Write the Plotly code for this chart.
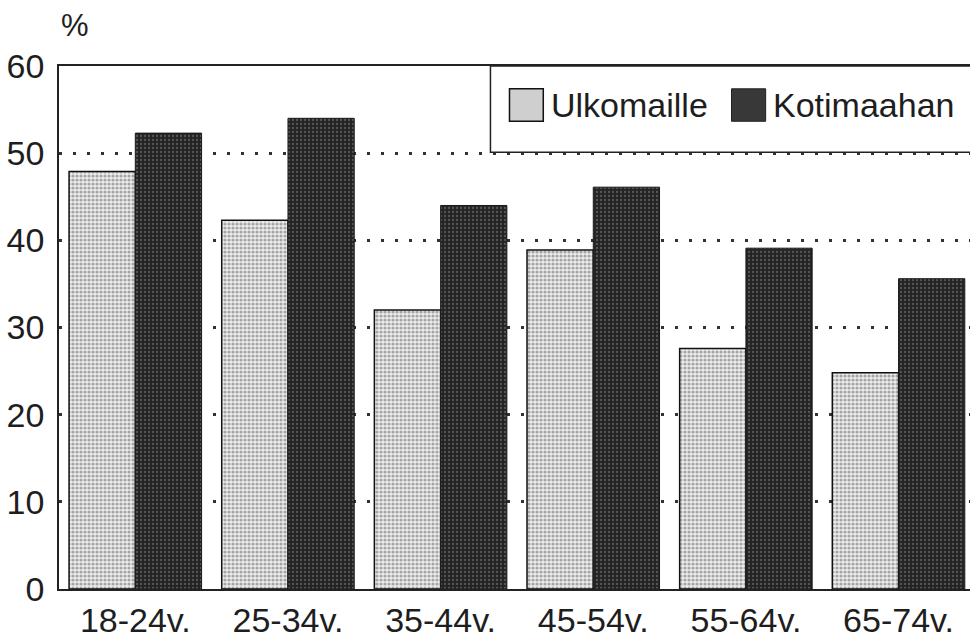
import plotly.graph_objects as go

categories = ["18-24v.", "25-34v.", "35-44v.", "45-54v.", "55-64v.", "65-74v."]
ulkomaille = [47.9, 42.3, 32.0, 38.9, 27.6, 24.8]
kotimaahan = [52.3, 54.0, 44.0, 46.1, 39.1, 35.6]
y_ticks = [0, 10, 20, 30, 40, 50, 60]
series_names = ["Ulkomaille", "Kotimaahan"]

FONT = "Liberation Sans, Arial, Helvetica, sans-serif"
TXT = "#1e1e1e"

fig = go.Figure()
fig.add_trace(go.Bar(
    x=categories, y=ulkomaille, name=series_names[0],
    marker=dict(color="#e6e6e6",
                pattern=dict(shape=".", fgcolor="#5e5e5e", bgcolor="#ececec", size=4, solidity=0.5),
                line=dict(color="#111", width=1.5)),
))
fig.add_trace(go.Bar(
    x=categories, y=kotimaahan, name=series_names[1],
    marker=dict(color="#262626",
                pattern=dict(shape=".", fgcolor="#8a8a8a", bgcolor="#242424", size=4, solidity=0.25),
                line=dict(color="#1a1a1a", width=1)),
))

# custom legend (box, swatches, labels)
shapes = [
    dict(type="rect", xref="paper", yref="paper", x0=0.4736, x1=1.02, y0=0.835, y1=1.0,
         line=dict(color="#222", width=1.5), fillcolor="white", layer="above"),
    dict(type="rect", xref="paper", yref="paper", x0=0.4945, x1=0.5316, y0=0.8943, y1=0.9564,
         line=dict(color="#111", width=1.5), fillcolor="#cfcfcf", layer="above"),
    dict(type="rect", xref="paper", yref="paper", x0=0.7382, x1=0.7757, y0=0.8943, y1=0.9564,
         line=dict(color="#222", width=1), fillcolor="#383838", layer="above"),
]
annotations = [
    dict(text=series_names[0], xref="paper", yref="paper", x=0.538, y=0.925,
         xanchor="left", yanchor="middle", showarrow=False,
         font=dict(family=FONT, size=34, color=TXT)),
    dict(text=series_names[1], xref="paper", yref="paper", x=0.7815, y=0.925,
         xanchor="left", yanchor="middle", showarrow=False,
         font=dict(family=FONT, size=34, color=TXT)),
    dict(text="%", xref="paper", yref="paper", x=0.0, y=1.078,
         xanchor="left", yanchor="middle", showarrow=False,
         font=dict(family=FONT, size=31, color=TXT)),
]

fig.update_layout(
    width=970, height=639,
    margin=dict(l=59, r=0, t=66, b=46),
    paper_bgcolor="white", plot_bgcolor="white",
    barmode="group", bargap=0.132, bargroupgap=0,
    showlegend=False,
    font=dict(family=FONT, size=34, color=TXT),
    shapes=shapes, annotations=annotations,
    xaxis=dict(range=[-0.5, 5.468], showline=True, mirror=True, linecolor="#222", linewidth=1.5,
               showgrid=False, ticks="", tickfont=dict(size=34, color=TXT), ticklabelstandoff=0),
    yaxis=dict(range=[0, 60], tickvals=y_ticks, showline=True, mirror=False, linecolor="#222",
               linewidth=1.5, showgrid=True, gridcolor="#333", griddash="3px,11px", gridwidth=2.5,
               zeroline=False, ticks="", tickfont=dict(size=34, color=TXT), ticklabelstandoff=6),
)

fig.write_html("out.html", config={"displayModeBar": False},
               post_script="document.body.style.margin='0';document.body.style.overflow='hidden';")
